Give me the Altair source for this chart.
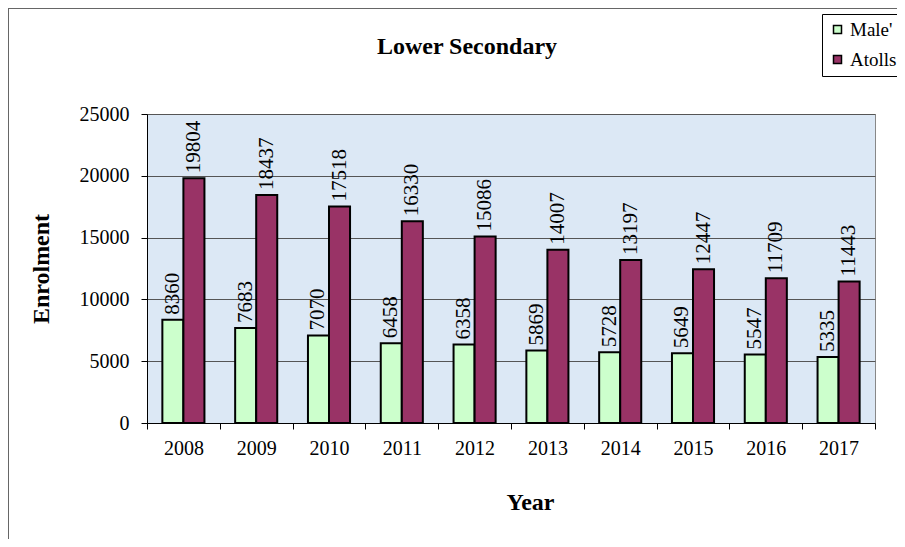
import altair as alt
import pandas as pd

years = ["2008", "2009", "2010", "2011", "2012", "2013", "2014", "2015", "2016", "2017"]
male = [8360, 7683, 7070, 6458, 6358, 5869, 5728, 5649, 5547, 5335]
atolls = [19804, 18437, 17518, 16330, 15086, 14007, 13197, 12447, 11709, 11443]
series = ["Male'", "Atolls"]
colors = ["#ccffcc", "#993366"]
y_ticks = [0, 5000, 10000, 15000, 20000, 25000]

rows = []
for i, yr in enumerate(years):
    rows.append({"Year": yr, "Series": series[0], "Value": male[i]})
    rows.append({"Year": yr, "Series": series[1], "Value": atolls[i]})
df = pd.DataFrame(rows)

FONT = "Liberation Serif"

x_enc = alt.X("Year:N", sort=years,
              scale=alt.Scale(paddingInner=0, paddingOuter=0),
              axis=alt.Axis(title="Year", tickBand="extent", labelAngle=0,
                            labelFontSize=20, labelPadding=9, tickSize=6,
                            titleFontSize=24, titlePadding=32, titleX=383,
                            grid=False))
xo_enc = alt.XOffset("Series:N", sort=series,
                     scale=alt.Scale(paddingInner=0, paddingOuter=0.73))
y_enc = alt.Y("Value:Q",
              scale=alt.Scale(domain=[0, 25000], nice=False),
              axis=alt.Axis(title="Enrolment", values=y_ticks, format="d",
                            labelFontSize=20, labelPadding=12, tickSize=6,
                            titleFontSize=24, titlePadding=26,
                            grid=True, gridColor="#555555", gridWidth=1))

bars = alt.Chart(df).mark_bar(stroke="black", strokeWidth=2).encode(
    x=x_enc, xOffset=xo_enc, y=y_enc,
    color=alt.Color("Series:N", sort=series,
                    scale=alt.Scale(domain=series, range=colors),
                    legend=alt.Legend(title=None, orient="none", legendX=675, legendY=-100,
                                      symbolType="square", symbolSize=64,
                                      symbolStrokeColor="black", symbolStrokeWidth=1.5,
                                      labelFontSize=19, labelFont=FONT, labelColor="black",
                                      strokeColor="black", fillColor="white",
                                      padding=6, rowPadding=10, labelOffset=3)),
)

labels = alt.Chart(df).mark_text(angle=270, align="left", baseline="middle", dx=5,
                                 font=FONT, fontSize=21, color="black").encode(
    x=alt.X("Year:N", sort=years), xOffset=alt.XOffset("Series:N", sort=series),
    y="Value:Q", text=alt.Text("Value:Q", format="d"),
)

one = pd.DataFrame({"a": [0]})
title = alt.Chart(one).mark_text(text="Lower Secondary", font=FONT, fontSize=24,
                                 fontWeight="bold", color="black",
                                 align="center", baseline="middle").encode(
    x=alt.value(320), y=alt.value(-67))
border_left = alt.Chart(one).mark_rule(color="#666666", strokeWidth=1).encode(
    x=alt.value(-138.5), y=alt.value(-106), y2=alt.value(440))
border_top = alt.Chart(one).mark_rule(color="#666666", strokeWidth=1).encode(
    x=alt.value(-139), x2=alt.value(760), y=alt.value(-105.5))

chart = alt.layer(bars, labels, title, border_left, border_top).properties(
    width=728, height=309,
    autosize=alt.AutoSizeParams(type="none"),
    padding={"left": 139, "top": 106, "right": 22, "bottom": 116},
    background="white",
).configure(
    font=FONT,
).configure_view(
    fill="#dce8f5", stroke="#888888", strokeWidth=1,
).configure_axis(
    labelFont=FONT, titleFont=FONT, labelColor="black", titleColor="black",
    domainColor="black", tickColor="black", domainWidth=1, tickWidth=1,
    titleFontWeight="bold",
)

chart.save("out.html", embed_options={"renderer": "svg", "actions": False})
